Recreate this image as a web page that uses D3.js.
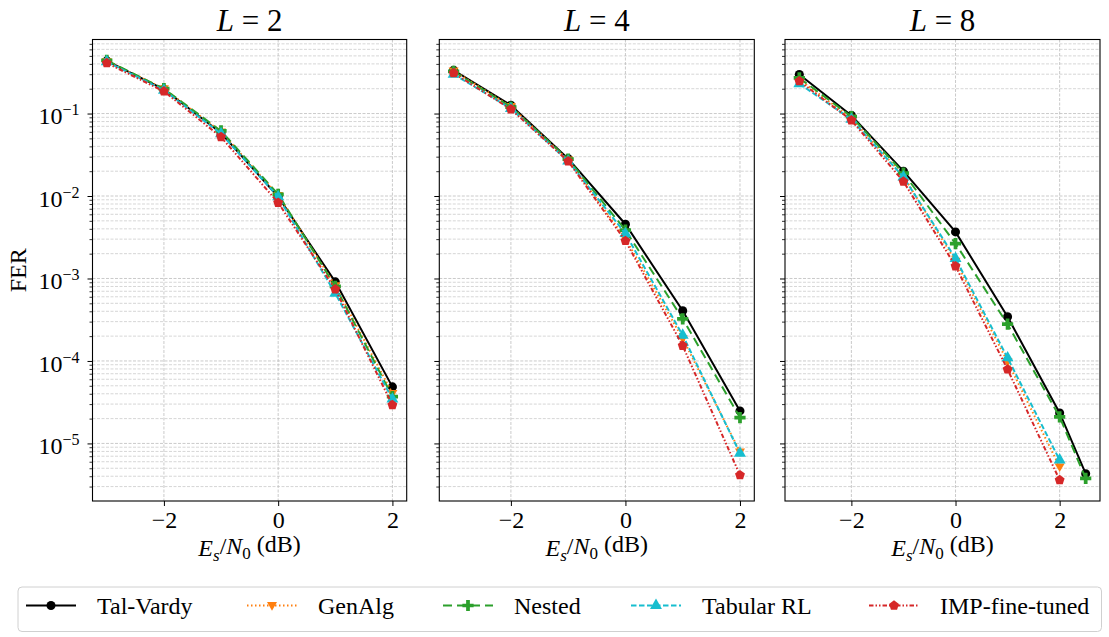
<!DOCTYPE html>
<html>
<head>
<meta charset="utf-8">
<script src="https://cdn.jsdelivr.net/npm/d3@7"></script>
<style>
  body { margin: 0; background: #fff; }
  svg text { font-family: "Liberation Serif", "DejaVu Serif", serif; fill: #000; }
</style>
</head>
<body>
<svg id="chart" width="1109" height="637"></svg>
<script>
// Es/N0 grid (dB)
const snr = [-3, -2, -1, 0, 1, 2];
const snrL8 = [-3, -2, -1, 0, 1, 2, 2.5];

// FER, L = 2
const talVardyL2 = [0.435, 0.197, 0.058, 0.0098, 0.00091, 4.85e-5];
const genAlgL2 = [0.43, 0.2, 0.06, 0.0102, 0.00082, 4.05e-5];
const nestedL2 = [0.44, 0.2, 0.0616, 0.0105, 0.0008, 3.7e-5];
const tabularL2 = [0.425, 0.192, 0.057, 0.0098, 0.00066, 3.45e-5];
const impL2 = [0.41, 0.186, 0.052, 0.0083, 0.00074, 2.92e-5];

// L = 4
const talVardyL4 = [0.335, 0.126, 0.0284, 0.00455, 4.06e-4, 2.48e-5];
const genAlgL4 = [0.33, 0.122, 0.0275, 0.00305, 1.87e-4, 7.9e-6];
const nestedL4 = [0.325, 0.12, 0.028, 0.00385, 3.24e-4, 2.06e-5];
const tabularL4 = [0.30, 0.115, 0.0265, 0.0035, 2.05e-4, 7.6e-6];
const impL4 = [0.31, 0.113, 0.0264, 0.00286, 1.53e-4, 4.13e-6];

// L = 8 (Tal-Vardy and Nested go up to 2.5 dB)
const talVardyL8 = [0.297, 0.095, 0.02, 0.00367, 3.43e-4, 2.34e-5, 4.3e-6];
const genAlgL8 = [0.26, 0.088, 0.0175, 0.00162, 9.8e-5, 5.2e-6];
const nestedL8 = [0.27, 0.092, 0.019, 0.00265, 2.79e-4, 2.1e-5, 3.76e-6];
const tabularL8 = [0.23, 0.085, 0.017, 0.00175, 1.09e-4, 6.3e-6];
const impL8 = [0.247, 0.083, 0.015, 0.00141, 7.9e-5, 3.6e-6];

const listSizes = [2, 4, 8];
const xTicks = [-2, 0, 2];
const yExponents = [-5, -4, -3, -2, -1];

const methods = [
	{ name: "Tal-Vardy", color: "#000000", dash: null, marker: "circle" },
	{ name: "GenAlg", color: "#ff7f0e", dash: "1.5,2.5", marker: "triangleDown" },
	{ name: "Nested", color: "#2ca02c", dash: "9,5", marker: "plus" },
	{ name: "Tabular RL", color: "#17becf", dash: "5.5,2.5", marker: "triangle" },
	{ name: "IMP-fine-tuned", color: "#d62728", dash: "4.5,2,1.5,2,1.5,2", marker: "pentagon" }
];

const panelData = [
	[[snr, talVardyL2], [snr, genAlgL2], [snr, nestedL2], [snr, tabularL2], [snr, impL2]],
	[[snr, talVardyL4], [snr, genAlgL4], [snr, nestedL4], [snr, tabularL4], [snr, impL4]],
	[[snrL8, talVardyL8], [snr, genAlgL8], [snrL8, nestedL8], [snr, tabularL8], [snr, impL8]]
];

/**
 * Layout
 */
const svg = d3.select("#chart");
const plotTop = 39.5, plotBottom = 501;
const panelX = [[92.5, 406.7], [439.3, 754.3], [785, 1100]];

// shared log y domain with 5% margin in log space
let allVals = [];
panelData.forEach(p => p.forEach(s => { allVals = allVals.concat(s[1]); }));
const lmin = Math.log10(d3.min(allVals)), lmax = Math.log10(d3.max(allVals));
const lpad = (lmax - lmin) * 0.05;
const yScale = d3.scaleLog()
	.domain([Math.pow(10, lmin - lpad), Math.pow(10, lmax + lpad)])
	.range([plotBottom, plotTop]);

// minor ticks 2..9 x decade inside the domain
const minorTicks = [];
for (let e = -6; e <= 0; e++) {
	for (let m = 2; m <= 9; m++) {
		const v = m * Math.pow(10, e);
		if (v >= yScale.domain()[0] && v <= yScale.domain()[1]) minorTicks.push(v);
	}
}
const majorTicks = yExponents.map(e => Math.pow(10, e));

function markerPath(type) {
	if (type === "circle") return d3.symbol(d3.symbolCircle, 64)();
	if (type === "triangle") return d3.symbol(d3.symbolTriangle, 62)();
	if (type === "triangleDown") return "M0,5.2L-5,-3.4L5,-3.4Z";
	if (type === "plus") return d3.symbol(d3.symbolCross, 70)();
	// pentagon
	const r = 5.2;
	return d3.range(5).map(i => {
		const a = -Math.PI / 2 + i * 2 * Math.PI / 5;
		return (i ? "L" : "M") + (r * Math.cos(a)).toFixed(2) + "," + (r * Math.sin(a)).toFixed(2);
	}).join("") + "Z";
}

function supLabel(sel, exp) {
	sel.text(null);
	sel.append("tspan").text("10");
	sel.append("tspan").attr("dy", "-0.55em").style("font-size", "16px").text("\u2212" + Math.abs(exp));
}

panelData.forEach(function(series, pi) {
	const x0 = panelX[pi][0], x1 = panelX[pi][1];
	const xs = series.map(s => s[0]).reduce((a, b) => a.length > b.length ? a : b);
	const xmin = d3.min(xs), xmax = d3.max(xs);
	const xpad = (xmax - xmin) * 0.05;
	const xScale = d3.scaleLinear().domain([xmin - xpad, xmax + xpad]).range([x0, x1]);

	const g = svg.append("g");

	// grid
	g.append("g").selectAll("line").data(minorTicks).enter().append("line")
		.attr("x1", x0).attr("x2", x1)
		.attr("y1", d => yScale(d)).attr("y2", d => yScale(d))
		.attr("stroke", "#c4c4c4").attr("stroke-width", 0.7).attr("stroke-dasharray", "3,1.5");
	g.append("g").selectAll("line").data(majorTicks).enter().append("line")
		.attr("x1", x0).attr("x2", x1)
		.attr("y1", d => yScale(d)).attr("y2", d => yScale(d))
		.attr("stroke", "#bdbdbd").attr("stroke-width", 0.8).attr("stroke-dasharray", "3,1.5");
	g.append("g").selectAll("line").data(xTicks).enter().append("line")
		.attr("x1", d => xScale(d)).attr("x2", d => xScale(d))
		.attr("y1", plotTop).attr("y2", plotBottom)
		.attr("stroke", "#bdbdbd").attr("stroke-width", 0.8).attr("stroke-dasharray", "3,1.5");

	// x axis
	const xAxis = g.append("g").attr("transform", "translate(0," + plotBottom + ")")
		.call(d3.axisBottom(xScale).tickValues(xTicks).tickSize(5).tickPadding(6)
			.tickFormat(d => d < 0 ? "\u2212" + Math.abs(d) : d));
	xAxis.select(".domain").remove();
	xAxis.selectAll("text").style("font-size", "24px").attr("dy", "0.68em");
	xAxis.selectAll("line").attr("stroke-width", 1);

	// y axis
	const yMinor = g.append("g").attr("transform", "translate(" + x0 + ",0)")
		.call(d3.axisLeft(yScale).tickValues(minorTicks).tickSize(3).tickFormat(""));
	yMinor.select(".domain").remove();
	yMinor.selectAll("line").attr("stroke-width", 0.8);
	const yMajor = g.append("g").attr("transform", "translate(" + x0 + ",0)")
		.call(d3.axisLeft(yScale).tickValues(majorTicks).tickSize(5).tickPadding(8).tickFormat(""));
	yMajor.select(".domain").remove();
	yMajor.selectAll("line").attr("stroke-width", 1);
	if (pi === 0) {
		yMajor.selectAll(".tick text")
			.style("font-size", "24px")
			.attr("dy", "0.42em")
			.each(function(d) { supLabel(d3.select(this), Math.round(Math.log10(d))); });
	}

	// curves
	methods.forEach(function(m, si) {
		const sx = series[si][0], sy = series[si][1];
		const pts = sy.map((v, i) => [sx[i], v]);
		const line = d3.line().x(d => xScale(d[0])).y(d => yScale(d[1]));
		g.append("path").datum(pts)
			.attr("d", line)
			.attr("fill", "none")
			.attr("stroke", m.color)
			.attr("stroke-width", 2)
			.attr("stroke-dasharray", m.dash);
		g.append("g").selectAll("path").data(pts).enter().append("path")
			.attr("d", markerPath(m.marker))
			.attr("transform", d => "translate(" + xScale(d[0]) + "," + yScale(d[1]) + ")")
			.attr("fill", m.color);
	});

	// frame
	g.append("rect").attr("x", x0).attr("y", plotTop)
		.attr("width", x1 - x0).attr("height", plotBottom - plotTop)
		.attr("fill", "none").attr("stroke", "#000").attr("stroke-width", 1.1);

	// title
	const title = g.append("text").attr("x", (x0 + x1) / 2).attr("y", 31)
		.attr("text-anchor", "middle").style("font-size", "31px")
		.attr("xml:space", "preserve");
	title.append("tspan").style("font-style", "italic").text("L");
	title.append("tspan").text("\u00a0=\u00a0" + listSizes[pi]);

	// x label
	const xl = g.append("text").attr("x", (x0 + x1) / 2).attr("y", 556)
		.attr("text-anchor", "middle").style("font-size", "24px");
	xl.append("tspan").style("font-style", "italic").text("E");
	xl.append("tspan").style("font-style", "italic").style("font-size", "17px").attr("dy", "0.3em").text("s");
	xl.append("tspan").attr("dy", "-0.3em").text("/");
	xl.append("tspan").style("font-style", "italic").text("N");
	xl.append("tspan").style("font-size", "17px").attr("dy", "0.3em").text("0");
	xl.append("tspan").attr("dy", "-0.3em").text(" (dB)");
});

// y label
svg.append("text")
	.attr("transform", "translate(26," + (plotTop + plotBottom) / 2 + ") rotate(-90)")
	.attr("text-anchor", "middle")
	.style("font-size", "24px")
	.text("FER");

/**
 * Legend
 */
const legend = svg.append("g");
legend.append("rect")
	.attr("x", 18).attr("y", 587).attr("width", 1083.5).attr("height", 44.5)
	.attr("rx", 4).attr("fill", "#fff").attr("stroke", "#d0d0d0").attr("stroke-width", 1);
const legendX = [26, 247, 443, 631, 869];
const legendY = 605.5;
methods.forEach(function(m, i) {
	const lx = legendX[i];
	legend.append("line")
		.attr("x1", lx).attr("x2", lx + 50).attr("y1", legendY).attr("y2", legendY)
		.attr("stroke", m.color).attr("stroke-width", 2).attr("stroke-dasharray", m.dash);
	legend.append("path")
		.attr("d", markerPath(m.marker))
		.attr("transform", "translate(" + (lx + 25) + "," + legendY + ")")
		.attr("fill", m.color);
	legend.append("text")
		.attr("x", lx + 71).attr("y", legendY + 8)
		.style("font-size", "24px")
		.text(m.name);
});
</script>
</body>
</html>
